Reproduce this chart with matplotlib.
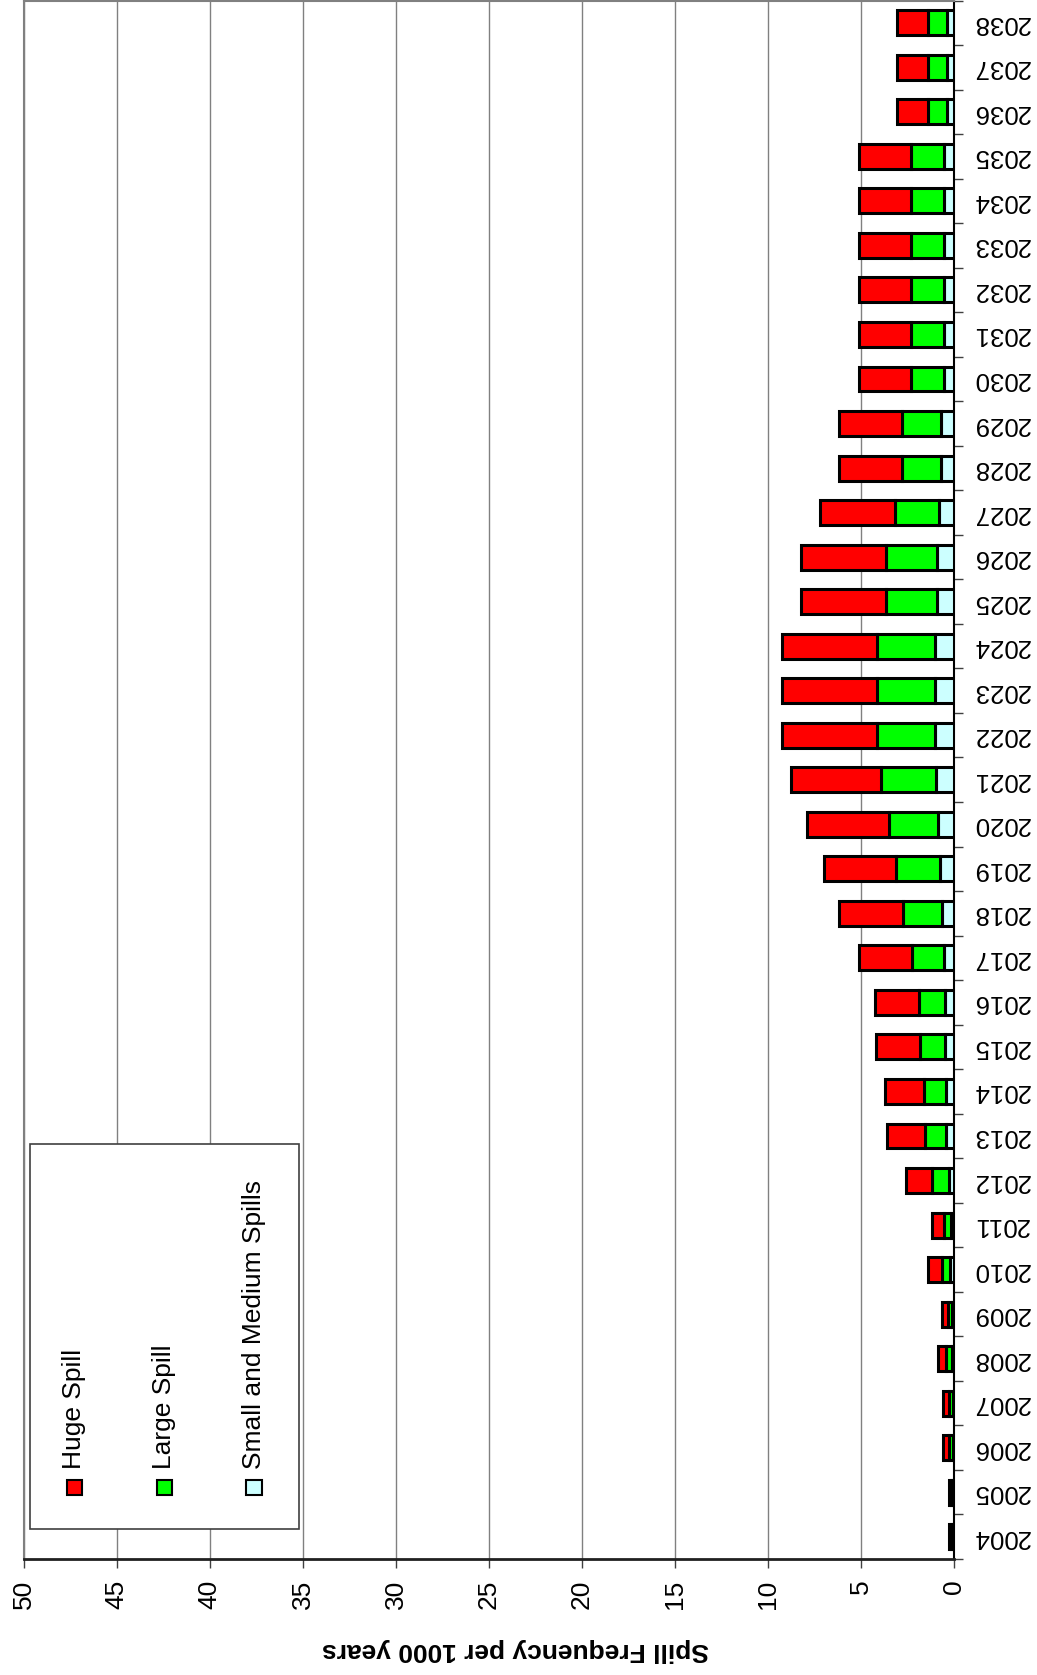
import matplotlib
matplotlib.use("Agg")
import matplotlib.pyplot as plt
import matplotlib.ticker as ticker
from matplotlib.patches import Rectangle
import numpy as np

plt.rcParams["font.family"] = ["Liberation Sans", "DejaVu Sans"]

# ── Data (spill frequency per 1000 years) ─────────────────────────────────────
years = list(range(2004, 2039))

small_medium = [0.05, 0.05, 0.08, 0.08, 0.10, 0.10, 0.20, 0.15, 0.27, 0.41,
                0.41, 0.48, 0.48, 0.55, 0.66, 0.75, 0.88, 0.95, 1.02, 1.02,
                1.02, 0.93, 0.93, 0.81, 0.68, 0.68, 0.56, 0.56, 0.56, 0.56,
                0.56, 0.56, 0.36, 0.36, 0.36]
large = [0.10, 0.10, 0.20, 0.20, 0.31, 0.24, 0.44, 0.37, 0.91, 1.17,
         1.22, 1.36, 1.40, 1.71, 2.08, 2.37, 2.63, 2.97, 3.10, 3.10,
         3.10, 2.72, 2.72, 2.38, 2.10, 2.10, 1.73, 1.73, 1.73, 1.73,
         1.73, 1.73, 1.02, 1.02, 1.02]
huge = [0.13, 0.13, 0.31, 0.31, 0.45, 0.33, 0.78, 0.65, 1.42, 2.00,
        2.09, 2.37, 2.37, 2.85, 3.42, 3.87, 4.37, 4.86, 5.12, 5.12,
        5.12, 4.57, 4.57, 3.99, 3.38, 3.38, 2.84, 2.84, 2.84, 2.84,
        2.84, 2.84, 1.68, 1.68, 1.68]

series_names = ["Huge Spill", "Large Spill", "Small and Medium Spills"]
series_colors = ["#ff0000", "#00ff00", "#ccffff"]

# ── Figure (chart is drawn turned a quarter turn) ─────────────────────────────
W, H = 1037, 1675
fig = plt.figure(figsize=(W / 100, H / 100), dpi=100)
ax_l, ax_r, ax_t, ax_b = 23.5, 954, 0.5, 1559
ax = fig.add_axes([ax_l / W, 1 - ax_b / H, (ax_r - ax_l) / W, (ax_b - ax_t) / H])

y = np.arange(len(years))
sm = np.array(small_medium)
lg = np.array(large)
hg = np.array(huge)
bar_kw = dict(height=0.56, edgecolor="black", linewidth=2.2, zorder=3)
ax.barh(y, sm, color=series_colors[2], **bar_kw)
ax.barh(y, lg, left=sm, color=series_colors[1], **bar_kw)
ax.barh(y, hg, left=sm + lg, color=series_colors[0], **bar_kw)

ax.set_xlim(50, 0)
ax.set_ylim(-0.5, len(years) - 0.5)

# value axis along the bottom
ax.xaxis.set_major_locator(ticker.MultipleLocator(5))
ax.tick_params(axis="x", direction="out", length=6.5, width=1, color="#404040",
               pad=8.5, labelsize=19, labelrotation=90)
ax.grid(axis="x", color="#808080", linewidth=1, zorder=0)

# category axis on the right, labels upside down
ax.yaxis.tick_right()
ax.set_yticks(y)
ax.set_yticklabels([str(v) for v in years], rotation=180, va="center", ha="left")
ax.set_yticks(np.arange(-0.5, len(years), 1.0), minor=True)
ax.tick_params(axis="y", which="major", length=0, pad=13.5, labelsize=18.5)
ax.tick_params(axis="y", which="minor", direction="out", length=6.5, width=1,
               color="#404040")

for side in ["left", "top"]:
    ax.spines[side].set_color("#808080")
    ax.spines[side].set_linewidth(1.5)
ax.spines["bottom"].set_color("#202020")
ax.spines["bottom"].set_linewidth(2)
ax.spines["right"].set_color("black")
ax.spines["right"].set_linewidth(1.5)

ax.set_xlabel("Spill Frequency per 1000 years", fontsize=19, fontweight="bold",
              rotation=180)
ax.xaxis.set_label_coords(0.529, -0.0584)
ax.xaxis.label.set_verticalalignment("center")
ax.xaxis.label.set_horizontalalignment("center")

# ── Legend (drawn by hand so the text can turn with the chart) ────────────────
ax.add_patch(Rectangle((0.007, 0.0192), 0.289, 0.247, transform=ax.transAxes,
                       facecolor="white", edgecolor="#404040", linewidth=1.2,
                       zorder=5, clip_on=False))
leg_x = [0.0548, 0.1515, 0.2477]
sq_w, sq_h = 0.0165, 0.0098
for name, color, lx in zip(series_names, series_colors, leg_x):
    ax.add_patch(Rectangle((lx - sq_w / 2, 0.0459 - sq_h / 2), sq_w, sq_h,
                           transform=ax.transAxes, facecolor=color,
                           edgecolor="black", linewidth=1.5, zorder=6))
    ax.text(lx, 0.0575, name, transform=ax.transAxes, rotation=90,
            ha="center", va="bottom", fontsize=19, zorder=6)

fig.savefig("out.png", dpi=100)
